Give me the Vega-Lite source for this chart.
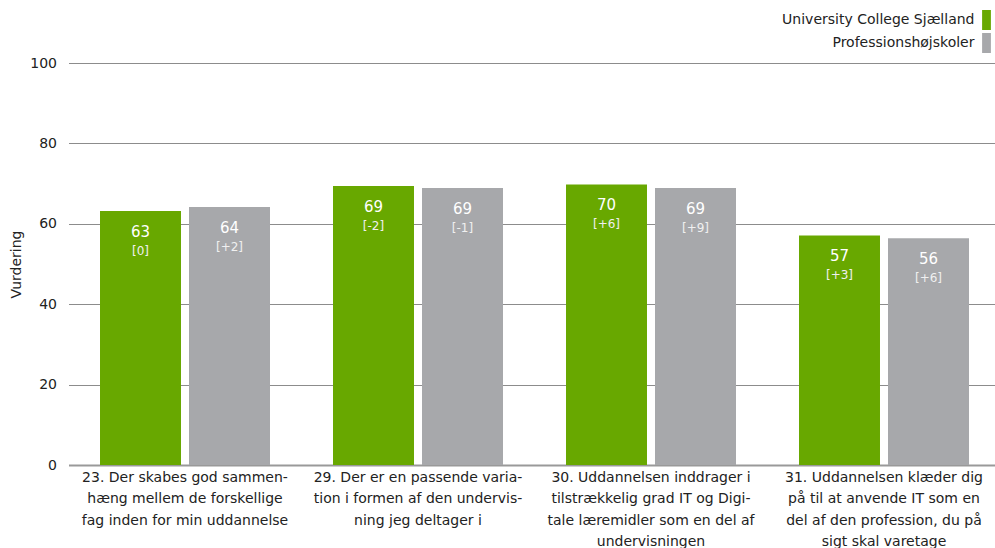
{
  "$schema": "https://vega.github.io/schema/vega-lite/v6.json",
  "width": 932,
  "height": 402,
  "autosize": {"type": "none"},
  "padding": {"left": 68.5, "top": 63, "right": 0, "bottom": 83},
  "background": "white",
  "config": {
    "font": "DejaVu Sans",
    "view": {"stroke": null},
    "axis": {"labelFont": "DejaVu Sans", "titleFont": "DejaVu Sans"}
  },
  "data": {
    "values": [
      {"q": "23. Der skabes god sammen-|hæng mellem de forskellige|fag inden for min uddannelse", "grp": "University College Sjælland", "value": 63.2, "change": "[0]"},
      {"q": "23. Der skabes god sammen-|hæng mellem de forskellige|fag inden for min uddannelse", "grp": "Professionshøjskoler", "value": 64.2, "change": "[+2]"},
      {"q": "29. Der er en passende varia-|tion i formen af den undervis-|ning jeg deltager i", "grp": "University College Sjælland", "value": 69.4, "change": "[-2]"},
      {"q": "29. Der er en passende varia-|tion i formen af den undervis-|ning jeg deltager i", "grp": "Professionshøjskoler", "value": 68.9, "change": "[-1]"},
      {"q": "30. Uddannelsen inddrager i|tilstrækkelig grad IT og Digi-|tale læremidler som en del af|undervisningen", "grp": "University College Sjælland", "value": 69.8, "change": "[+6]"},
      {"q": "30. Uddannelsen inddrager i|tilstrækkelig grad IT og Digi-|tale læremidler som en del af|undervisningen", "grp": "Professionshøjskoler", "value": 68.9, "change": "[+9]"},
      {"q": "31. Uddannelsen klæder dig|på til at anvende IT som en|del af den profession, du på|sigt skal varetage", "grp": "University College Sjælland", "value": 57.1, "change": "[+3]"},
      {"q": "31. Uddannelsen klæder dig|på til at anvende IT som en|del af den profession, du på|sigt skal varetage", "grp": "Professionshøjskoler", "value": 56.4, "change": "[+6]"}
    ]
  },
  "encoding": {
    "x": {
      "field": "q", "type": "nominal", "sort": null,
      "scale": {"paddingInner": 0, "paddingOuter": 0},
      "axis": {
        "title": null, "labelAngle": 0, "labelExpr": "split(datum.value, '|')",
        "labelLineHeight": 21.5, "labelFontSize": 14, "labelColor": "#222",
        "labelPadding": 5, "ticks": false, "domainColor": "#999", "domainWidth": 2,
        "labelLimit": 300, "labelBaseline": "top"
      }
    },
    "xOffset": {
      "field": "grp", "type": "nominal", "sort": ["University College Sjælland", "Professionshøjskoler"],
      "scale": {"paddingInner": 0.09, "paddingOuter": 0.354}
    },
    "y": {
      "field": "value", "type": "quantitative",
      "scale": {"domain": [0, 100]},
      "axis": {
        "title": "Vurdering", "titleFontSize": 14, "titleFontWeight": "normal", "titleColor": "#222",
        "titlePadding": 6,
        "values": [0, 20, 40, 60, 80, 100], "labelFontSize": 14, "labelColor": "#222",
        "labelPadding": 12, "ticks": false, "domain": false,
        "grid": true, "gridColor": "#8c8c8c", "gridWidth": 1
      }
    }
  },
  "layer": [
    {
      "mark": {"type": "bar"},
      "encoding": {
        "color": {
          "field": "grp", "type": "nominal",
          "sort": ["University College Sjælland", "Professionshøjskoler"],
          "scale": {"domain": ["University College Sjælland", "Professionshøjskoler"], "range": ["#68a800", "#a7a8ab"]},
          "legend": {
            "title": null, "orient": "none", "legendX": 908, "legendY": -53,
            "symbolType": "M-0.44,-1H0.44V1H-0.44Z", "symbolSize": 400, "symbolStrokeWidth": 0,
            "labelAlign": "right", "labelOffset": -22, "labelFontSize": 14, "labelColor": "#222",
            "labelFont": "DejaVu Sans", "rowPadding": 3, "labelLimit": 400
          }
        }
      }
    },
    {
      "mark": {"type": "text", "color": "white", "fontSize": 15, "dy": 21, "baseline": "middle"},
      "encoding": {"text": {"field": "value", "type": "quantitative", "format": ".0f"}}
    },
    {
      "mark": {"type": "text", "color": "#f0f0f0", "fontSize": 12, "dy": 40, "baseline": "middle"},
      "encoding": {"text": {"field": "change", "type": "nominal"}}
    }
  ]
}
